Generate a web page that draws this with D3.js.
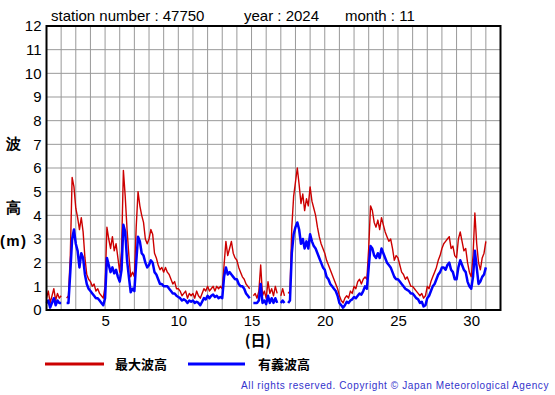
<!DOCTYPE html>
<html>
<head>
<meta charset="utf-8">
<script src="https://cdn.jsdelivr.net/npm/d3@7"></script>
<style>
  body { margin: 0; background: #fff; }
  svg { display: block; }
  text { font-family: "Liberation Sans", Arial, sans-serif; }
  .jp { font-family: "Noto Sans CJK JP", sans-serif; }
</style>
</head>
<body>
<svg id="chart" width="555" height="395"></svg>
<script>
// 3-hourly samples, first at day 1 00h (null = missing)
var startDay = 1;
var perDay = 8;

var maxWave = [
  0.5,0.8,0.3,0.6,0.9,0.4,0.7,0.5,
  0.6,null,null,0.5,0.6,2.3,5.6,5.2,
  4.3,3.9,3.4,3.9,3.3,2.2,1.5,1.3,
  1.2,1.0,1.1,0.8,0.9,0.7,0.6,0.5,
  1.0,3.5,3.0,2.6,3.1,2.5,2.8,2.2,
  1.6,2.5,5.9,4.8,3.4,2.3,1.4,1.6,
  1.4,3.5,5.0,4.4,4.0,3.7,3.0,2.8,
  3.0,3.4,3.2,2.4,2.2,1.9,1.7,1.8,
  1.6,1.8,1.6,1.5,1.3,1.1,1.2,0.9,
  0.9,0.8,0.6,0.7,0.8,0.5,0.7,0.6,
  0.7,0.5,0.8,0.6,0.5,0.7,0.9,0.8,
  1.0,0.8,0.9,1.0,0.8,1.0,0.9,1.0,
  0.9,1.9,2.9,2.3,2.6,2.9,2.4,2.2,
  2.1,1.8,1.6,1.4,1.3,1.1,1.0,0.9,
  null,0.6,0.7,0.5,0.8,1.9,0.6,0.8,
  0.5,1.2,0.7,0.9,0.6,1.0,0.7,null,
  0.6,0.9,0.6,null,0.7,0.8,3.5,4.8,
  5.4,6.0,5.3,4.5,4.9,4.2,4.7,4.4,
  5.2,4.6,4.3,4.0,3.5,3.1,2.8,2.6,
  2.4,2.1,1.9,1.7,1.5,1.3,1.1,0.9,
  0.6,0.4,0.3,0.5,0.6,0.5,0.8,0.7,
  1.0,0.9,1.2,1.3,1.1,1.3,1.4,1.3,
  2.6,4.4,4.2,3.7,3.5,3.8,3.4,3.9,
  3.6,3.3,3.1,2.9,3.0,2.6,2.1,2.3,
  2.2,1.9,1.6,1.5,1.3,1.4,1.2,1.0,
  1.0,0.9,0.8,0.7,0.6,0.7,0.5,0.6,
  1.0,0.9,1.2,1.4,1.6,1.8,2.1,2.3,
  2.6,2.8,2.9,3.0,3.1,2.6,2.7,2.3,
  2.2,3.0,3.3,2.9,2.5,2.6,2.0,1.6,
  1.4,2.3,4.1,2.8,2.0,1.7,2.2,2.4,
  2.9
];

var sigWave = [
  0.3,0.4,0.1,0.3,0.5,0.2,0.4,0.3,
  0.3,null,null,0.3,0.3,1.6,3.0,3.4,
  2.8,2.5,1.8,2.4,2.2,1.5,1.1,0.9,
  0.8,0.7,0.6,0.5,0.5,0.4,0.3,0.2,
  0.5,2.2,1.9,1.6,1.8,1.55,1.7,1.4,
  1.2,1.7,3.6,3.3,2.1,1.4,0.75,0.9,
  0.8,2.0,3.1,2.9,2.4,2.3,2.0,1.8,
  1.9,2.1,2.0,1.6,1.5,1.3,1.1,1.1,
  1.0,1.0,1.0,0.9,0.8,0.7,0.7,0.6,
  0.55,0.5,0.4,0.45,0.4,0.3,0.4,0.35,
  0.4,0.3,0.35,0.3,0.2,0.35,0.5,0.45,
  0.6,0.5,0.6,0.65,0.55,0.6,0.5,0.55,
  0.5,1.4,1.8,1.5,1.6,1.5,1.4,1.3,
  1.3,1.1,1.0,1.0,0.9,0.7,0.6,0.5,
  null,0.3,0.3,0.3,0.4,1.1,0.3,0.4,
  0.25,0.6,0.3,0.5,0.3,0.5,0.3,null,
  0.3,0.4,0.3,null,0.3,0.4,2.4,3.2,
  3.5,3.7,3.4,2.8,3.0,2.6,2.9,2.6,
  3.2,2.9,2.7,2.6,2.4,2.2,2.0,1.8,
  1.7,1.4,1.3,1.1,1.0,0.9,0.8,0.6,
  0.3,0.2,0.1,0.2,0.35,0.3,0.4,0.45,
  0.55,0.5,0.6,0.7,0.65,0.8,1.0,0.9,
  1.8,2.7,2.6,2.3,2.2,2.4,2.2,2.6,
  2.4,2.2,2.0,1.9,1.8,1.6,1.4,1.3,
  1.3,1.2,1.1,1.0,0.9,0.85,0.8,0.7,
  0.7,0.6,0.5,0.45,0.3,0.35,0.15,0.2,
  0.5,0.6,0.8,1.0,1.1,1.3,1.5,1.6,
  1.8,1.8,1.7,1.9,2.0,1.7,1.6,1.3,
  1.3,1.8,2.1,1.9,1.7,1.6,1.2,1.0,
  0.9,1.4,2.5,1.8,1.1,1.2,1.4,1.5,
  1.8
];

var dayTicks = [5, 10, 15, 20, 25, 30];
var heightTicks = [0, 1, 2, 3, 4, 5, 6, 7, 8, 9, 10, 11, 12];
var titleParts = ["station number : 47750", "year : 2024", "month : 11"];
var seriesNames = ["最大波高", "有義波高"];
var seriesColors = ["#cc0000", "#0000ff"];

var svg = d3.select("#chart");
var margin = { top: 26, left: 46.5, right: 54.5, bottom: 85 };
var width = 555 - margin.left - margin.right;
var height = 395 - margin.top - margin.bottom;

var x = d3.scaleLinear().domain([1, 32]).range([0, width]);
var y = d3.scaleLinear().domain([0, 12]).range([height, 0]);

var g = svg.append("g")
    .attr("transform", "translate(" + margin.left + "," + margin.top + ")");

// grid
g.append("g").selectAll("line.v")
    .data(d3.range(2, 32))
    .join("line")
    .attr("x1", function (d) { return x(d); })
    .attr("x2", function (d) { return x(d); })
    .attr("y1", 0).attr("y2", height)
    .attr("stroke", "#999").attr("stroke-width", 1);

g.append("g").selectAll("line.h")
    .data(heightTicks.slice(1, -1))
    .join("line")
    .attr("x1", 0).attr("x2", width)
    .attr("y1", function (d) { return y(d); })
    .attr("y2", function (d) { return y(d); })
    .attr("stroke", "#999").attr("stroke-width", 1);

// axes (labels only)
var yAxis = g.append("g")
    .call(d3.axisLeft(y).tickValues(heightTicks).tickSize(0).tickPadding(5));
var xAxis = g.append("g")
    .attr("transform", "translate(0," + height + ")")
    .call(d3.axisBottom(x).tickValues(dayTicks).tickSize(0).tickPadding(5));
[yAxis, xAxis].forEach(function (a) {
  a.select(".domain").remove();
  a.selectAll("text")
      .attr("fill", "#000")
      .style("font-family", "'Liberation Sans', Arial, sans-serif")
      .style("font-size", "15px");
});

// series
function pts(arr) {
  return arr.map(function (v, i) { return { t: startDay + i / perDay, v: v }; });
}
var line = d3.line()
    .defined(function (d) { return d.v != null; })
    .x(function (d) { return x(d.t); })
    .y(function (d) { return y(d.v); });

g.append("path").datum(pts(maxWave))
    .attr("fill", "none").attr("stroke", seriesColors[0])
    .attr("stroke-width", 1.4).attr("stroke-linejoin", "round")
    .attr("d", line);
g.append("path").datum(pts(sigWave))
    .attr("fill", "none").attr("stroke", seriesColors[1])
    .attr("stroke-width", 2.5).attr("stroke-linejoin", "round")
    .attr("d", line);

// frame
g.append("rect")
    .attr("width", width).attr("height", height)
    .attr("fill", "none").attr("stroke", "#000").attr("stroke-width", 2);

// title
svg.selectAll("text.title")
    .data(titleParts)
    .join("text")
    .attr("class", "title")
    .attr("x", function (d, i) { return [51, 244, 345][i]; })
    .attr("y", 21)
    .style("font-size", "15px")
    .text(function (d) { return d; });

// y label
var yl = svg.append("g").attr("class", "jp")
    .style("font-size", "15px").style("font-weight", "bold")
    .attr("text-anchor", "middle");
yl.append("text").attr("x", 13).attr("y", 149).text("波");
yl.append("text").attr("x", 13).attr("y", 213).text("高");
yl.append("text").attr("x", 13).attr("y", 246).text("(m)")
    .attr("textLength", 26).attr("lengthAdjust", "spacing");

// x label
svg.append("text").attr("class", "jp")
    .attr("x", 258).attr("y", 346)
    .attr("text-anchor", "middle")
    .style("font-size", "15px").style("font-weight", "bold")
    .text("(日)");

// legend
var leg = svg.append("g");
[[45, 104, 115], [188, 245, 258]].forEach(function (p, i) {
  leg.append("line")
      .attr("x1", p[0]).attr("x2", p[1])
      .attr("y1", 364).attr("y2", 364)
      .attr("stroke", seriesColors[i]).attr("stroke-width", 3);
  leg.append("text").attr("class", "jp")
      .attr("x", p[2]).attr("y", 369)
      .style("font-size", "13px").style("font-weight", "bold")
      .text(seriesNames[i]);
});

// copyright
svg.append("text")
    .attr("x", 549).attr("y", 389)
    .attr("text-anchor", "end")
    .attr("fill", "#3333cc")
    .style("font-size", "10px")
    .style("letter-spacing", "0.6px")
    .text("All rights reserved. Copyright © Japan Meteorological Agency");
</script>
</body>
</html>
